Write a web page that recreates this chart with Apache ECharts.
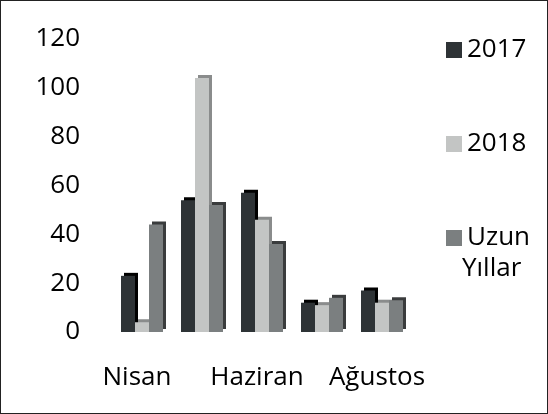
<!DOCTYPE html>
<html><head><meta charset="utf-8">
<script src="https://cdn.jsdelivr.net/npm/echarts@6/dist/echarts.min.js"></script>
<style>html,body{margin:0;padding:0;background:#fff}#c{position:absolute;left:0;top:0;width:546px;height:412px;border:1px solid #222;}</style>
</head><body><div id="c"></div>
<script>
const categories = ['Nisan', 'Mayıs', 'Haziran', 'Temmuz', 'Ağustos'];
const s2017 = [23, 54, 57, 12, 17];
const s2018 = [4, 104, 46, 11, 12];
const sUzun = [44, 52, 36, 14, 13];
const yTicks = [0, 20, 40, 60, 80, 100, 120];
const names = ['2017', '2018', 'Uzun Yıllar'];
const colors = ['#2e3336', '#c3c5c4', '#7b7f80'];
const sideColors = ['#000000', '#8a8c8c', '#3a3c3d'];
const FONT = 'Open Sans';
const chart = echarts.init(document.getElementById('c'));
function mk(name, data, color, side) {
  return {
    name: name, type: 'bar', data: data, barGap: '0%', barCategoryGap: '30%',
    itemStyle: { color: color, shadowColor: side, shadowBlur: 0, shadowOffsetX: 3, shadowOffsetY: -3 }
  };
}
chart.setOption({
  animation: false,
  textStyle: { fontFamily: FONT },
  grid: { left: 111, right: 135, top: 38, bottom: 81 },
  legend: {
    orient: 'vertical', left: 440, top: 27, itemWidth: 16, itemHeight: 16, itemGap: 60,
    icon: 'rect',
    data: names,
    formatter: function (n) { return n === 'Uzun Yıllar' ? 'Uzun' : n; },
    textStyle: { fontFamily: FONT, fontSize: 26, color: '#000', lineHeight: 34 }
  },
  graphic: [{ type: 'text', left: 461, top: 255, style: { text: 'Yıllar', font: '26px "Open Sans"', fill: '#000' } }],
  xAxis: {
    type: 'category', data: categories,
    axisLine: { show: false }, axisTick: { show: false },
    axisLabel: { interval: 1, fontSize: 26, color: '#000', margin: 33, fontFamily: FONT, padding: [0, 10, 0, 0] }
  },
  yAxis: {
    type: 'value', min: yTicks[0], max: yTicks[yTicks.length - 1], interval: 20,
    axisLine: { show: false }, axisTick: { show: false }, splitLine: { show: false },
    axisLabel: { fontSize: 26, color: '#000', margin: 32, fontFamily: FONT, padding: [12, 0, 0, 0] }
  },
  series: [mk(names[0], s2017, colors[0], sideColors[0]), mk(names[1], s2018, colors[1], sideColors[1]), mk(names[2], sUzun, colors[2], sideColors[2])]
});
</script></body></html>
